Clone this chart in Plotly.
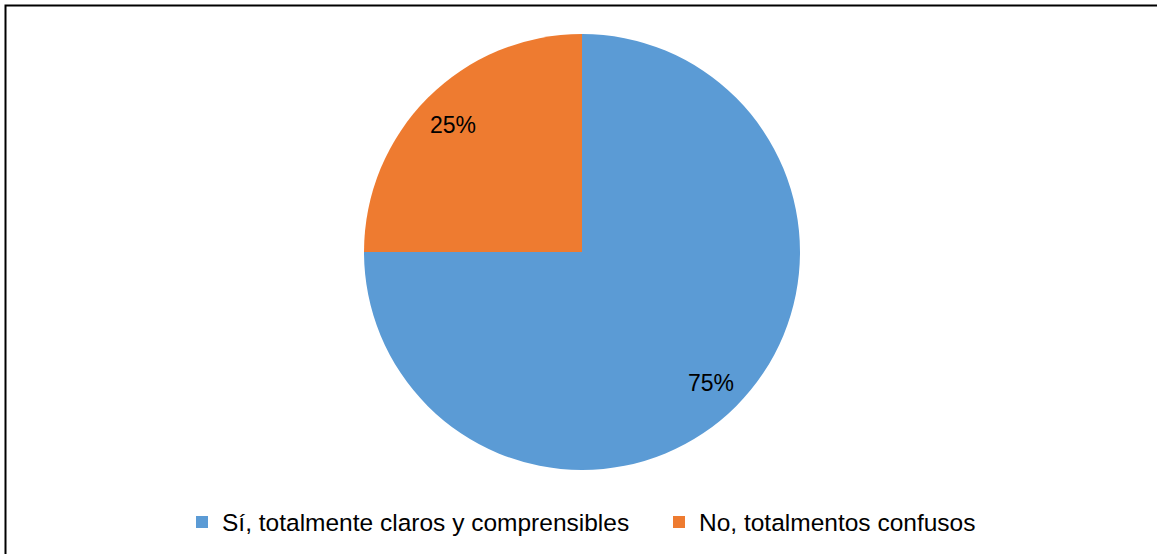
import math
import plotly.graph_objects as go

labels = ["Sí, totalmente claros y comprensibles", "No, totalmentos confusos"]
values = [75, 25]
colors = ["#5b9bd5", "#ee7b30"]

W, H = 1157, 554
FONT = "Liberation Sans, Arial, sans-serif"

# pie placement (pixels in the page)
cx, cy, R = 582, 252, 218

fig = go.Figure()
fig.add_trace(go.Pie(
    labels=labels,
    values=values,
    sort=False,
    direction="clockwise",
    rotation=0,
    marker=dict(colors=colors, line=dict(width=0)),
    textinfo="none",
    hoverinfo="label+percent",
    domain=dict(x=[(cx - R) / W, (cx + R) / W], y=[(H - cy - R) / H, (H - cy + R) / H]),
))

# percentage labels placed along each slice's bisector
total = sum(values)
annotations = []
cum = 0
for v in values:
    mid = (cum + v / 2) / total * 2 * math.pi
    cum += v
    rr = 0.84 * R
    annotations.append(dict(
        x=(cx + rr * math.sin(mid)) / W,
        y=(H - cy + rr * math.cos(mid) - 2) / H,
        xref="paper", yref="paper",
        text=f"{round(v / total * 100)}%",
        showarrow=False,
        font=dict(family=FONT, size=23, color="black"),
        xanchor="center", yanchor="middle",
    ))

fig.update_layout(
    width=W, height=H,
    margin=dict(l=0, r=0, t=0, b=0, autoexpand=False),
    paper_bgcolor="white",
    plot_bgcolor="white",
    showlegend=True,
    annotations=annotations,
    legend=dict(
        orientation="h",
        x=182 / W, xanchor="left",
        y=(H - 522) / H, yanchor="middle",
        font=dict(family=FONT, size=24.5, color="black"),
        itemwidth=30,
        entrywidth=432,
        entrywidthmode="pixels",
        traceorder="normal",
        bgcolor="rgba(0,0,0,0)",
    ),
    shapes=[dict(
        type="rect", xref="paper", yref="paper",
        x0=5.5 / W, x1=1.02, y0=-0.02, y1=(H - 5.5) / H,
        line=dict(color="black", width=2), fillcolor="rgba(0,0,0,0)",
    )],
)

fig.write_html(
    "out.html",
    config={"displayModeBar": False},
    post_script="document.body.style.margin='0';document.body.style.overflow='hidden';",
)
